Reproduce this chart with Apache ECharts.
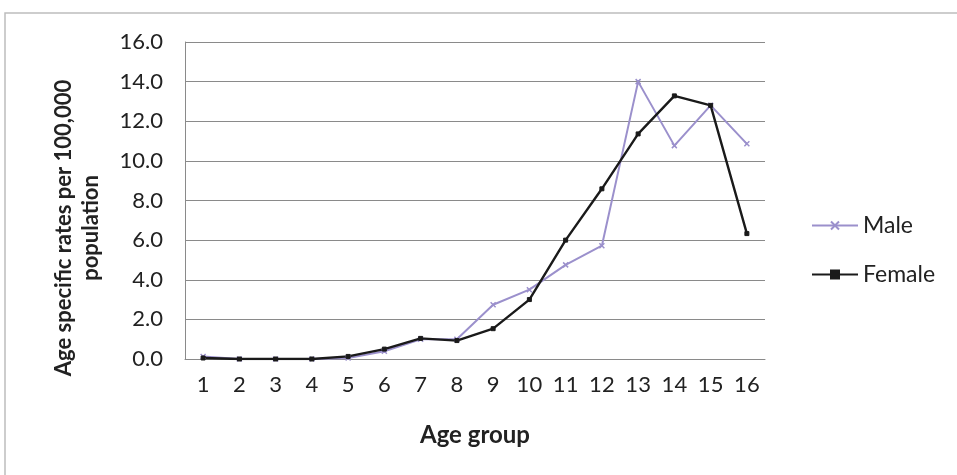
<!DOCTYPE html>
<html><head><meta charset="utf-8">
<script src="https://cdn.jsdelivr.net/npm/echarts@6/dist/echarts.min.js"></script>
<style>html,body{margin:0;padding:0;background:#fff}#c{width:957px;height:475px}</style>
</head><body><div id="c"></div>
<script>
var categories = ['1','2','3','4','5','6','7','8','9','10','11','12','13','14','15','16'];
var male = [0.13,0.0,0.0,0.0,0.05,0.39,1.0,1.0,2.74,3.5,4.75,5.72,14.0,10.77,12.8,10.86];
var female = [0.05,0.0,0.0,0.0,0.13,0.5,1.04,0.93,1.53,3.0,6.0,8.59,11.36,13.28,12.8,6.33];
var yTicks = {min:0, max:16, interval:2};
var yTitle = 'Age specific rates per 100,000\npopulation';
var xTitle = 'Age group';

var xSym = 'path://M0,0 L10,10 M10,0 L0,10 M0,0 L10,10';
var font = 'Lato, "Open Sans", "Liberation Sans", sans-serif';
var chart = echarts.init(document.getElementById('c'));
chart.setOption({
  animation:false,
  backgroundColor:'#fff',
  graphic:[
    {type:'rect', shape:{x:5,y:13,width:960,height:470}, style:{fill:'none',stroke:'#bdbdbd',lineWidth:1.5}, silent:true},
    {type:'text', x:77, y:228, rotation:Math.PI/2,
      style:{text:yTitle, font:'bold 22px '+font, fill:'#222', align:'center', verticalAlign:'middle', lineHeight:27}}
  ],
  grid:{left:185, right:192, top:42, bottom:116},
  legend:{orient:'vertical', left:806, top:209, itemGap:26, itemWidth:46, itemHeight:10,
    textStyle:{fontSize:23, color:'#222', fontFamily:font},
    data:[{name:'Male'},{name:'Female'}]},
  xAxis:{type:'category', data:categories, boundaryGap:true,
    name:xTitle, nameLocation:'middle', nameGap:64,
    nameTextStyle:{fontSize:24, fontWeight:'bold', color:'#222', fontFamily:font},
    axisLine:{lineStyle:{color:'#8a8a8a', width:1}}, axisTick:{show:false},
    axisLabel:{fontSize:22, color:'#222', fontFamily:font, margin:15}},
  yAxis:{type:'value', min:yTicks.min, max:yTicks.max, interval:yTicks.interval,
    axisLine:{show:true, lineStyle:{color:'#8a8a8a'}}, axisTick:{show:false},
    splitLine:{lineStyle:{color:'#8a8a8a', width:1}},
    axisLabel:{fontSize:22, color:'#222', fontFamily:font, margin:22, formatter:function(v){return v.toFixed(1);}}},
  series:[
    {name:'Male', type:'line', data:male, symbol:xSym, symbolSize:5,
      lineStyle:{color:'#9b90cc', width:2}, itemStyle:{color:'#9b90cc', borderColor:'#9b90cc', borderWidth:1.5}},
    {name:'Female', type:'line', data:female, symbol:'rect', symbolSize:4,
      lineStyle:{color:'#1a1a1a', width:2.4}, itemStyle:{color:'#1a1a1a', borderColor:'#1a1a1a', borderWidth:1}}
  ]
});
</script></body></html>
